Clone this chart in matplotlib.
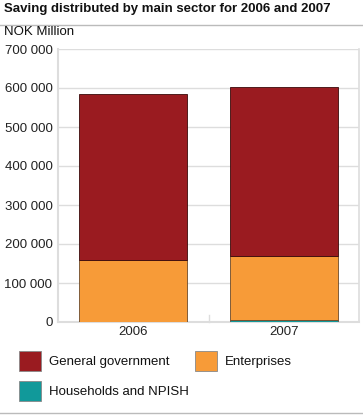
import matplotlib
matplotlib.use("Agg")
import matplotlib.pyplot as plt
from matplotlib.patches import Rectangle
from matplotlib.lines import Line2D
import numpy as np

years = ["2006", "2007"]
households = [1000, 4000]
enterprises = [157700, 166500]
general_gov = [425500, 431500]
series_names = ["General government", "Enterprises", "Households and NPISH"]
colors = {"General government": "#9A1B20", "Enterprises": "#F79B38", "Households and NPISH": "#11999A"}
yticks = [0, 100000, 200000, 300000, 400000, 500000, 600000, 700000]

plt.rcParams['font.family'] = ['Liberation Sans', 'DejaVu Sans']
fig = plt.figure(figsize=(3.63, 4.16), dpi=100)
W, H = 363, 416
ax = fig.add_axes([58 / W, 1 - 322 / H, (359 - 58) / W, (322 - 49) / H])

x = np.arange(len(years))
bw = 0.72
ax.bar(x, households, bw, color=colors["Households and NPISH"], edgecolor="#555555", linewidth=0.6, zorder=3)
ax.bar(x, enterprises, bw, bottom=households, color=colors["Enterprises"], edgecolor="#6b4a2a", linewidth=0.6, zorder=3)
bot2 = np.array(households) + np.array(enterprises)
ax.bar(x, general_gov, bw, bottom=bot2, color=colors["General government"], edgecolor="#3a0a0a", linewidth=0.6, zorder=3)

ax.set_xlim(-0.5, len(years) - 0.5)
ax.set_ylim(0, 700000)
ax.set_yticks(yticks)
ax.set_yticklabels([f"{v:,}".replace(",", " ") for v in yticks], fontsize=9.5, color="#222222")
ax.set_xticks(x)
ax.set_xticklabels(years, fontsize=9.5, color="#222222")
ax.tick_params(axis="y", length=0, pad=4)
ax.tick_params(axis="x", length=0, pad=3)
ax.grid(axis="y", color="#dddddd", linewidth=1, zorder=0)
ax.spines["top"].set_visible(False)
ax.spines["right"].set_color("#dddddd")
ax.spines["right"].set_linewidth(1.2)
ax.spines["left"].set_color("#dddddd")
ax.spines["left"].set_linewidth(1.5)
ax.spines["bottom"].set_color("#dddddd")
ax.spines["bottom"].set_linewidth(1.5)
# category separator tick
ax.plot([0.5, 0.5], [0, 18000], color="#dddddd", linewidth=1, zorder=1, clip_on=False)

fig.text(4 / W, 1 - 9 / H, "Saving distributed by main sector for 2006 and 2007",
         fontsize=9.5, fontweight="bold", va="center", ha="left", color="#111111")
fig.add_artist(Line2D([0, 1], [1 - 24.5 / H, 1 - 24.5 / H], color="#bbbbbb", linewidth=1))
fig.text(4 / W, 1 - 32 / H, "NOK Million", fontsize=9.5, va="center", ha="left", color="#111111")
fig.add_artist(Line2D([0, 1], [1 - 413 / H, 1 - 413 / H], color="#bbbbbb", linewidth=1))

legend_pos = [(19, 351, series_names[0]), (195, 351, series_names[1]), (19, 381, series_names[2])]
for lx, ly, name in legend_pos:
    fig.add_artist(Rectangle((lx / W, 1 - (ly + 20) / H), 22 / W, 20 / H,
                             facecolor=colors[name], edgecolor="#888888", linewidth=0.6,
                             transform=fig.transFigure))
    fig.text((lx + 30) / W, 1 - (ly + 11) / H, name, fontsize=9.5, va="center", ha="left", color="#111111")

fig.savefig("out.png", dpi=100)
